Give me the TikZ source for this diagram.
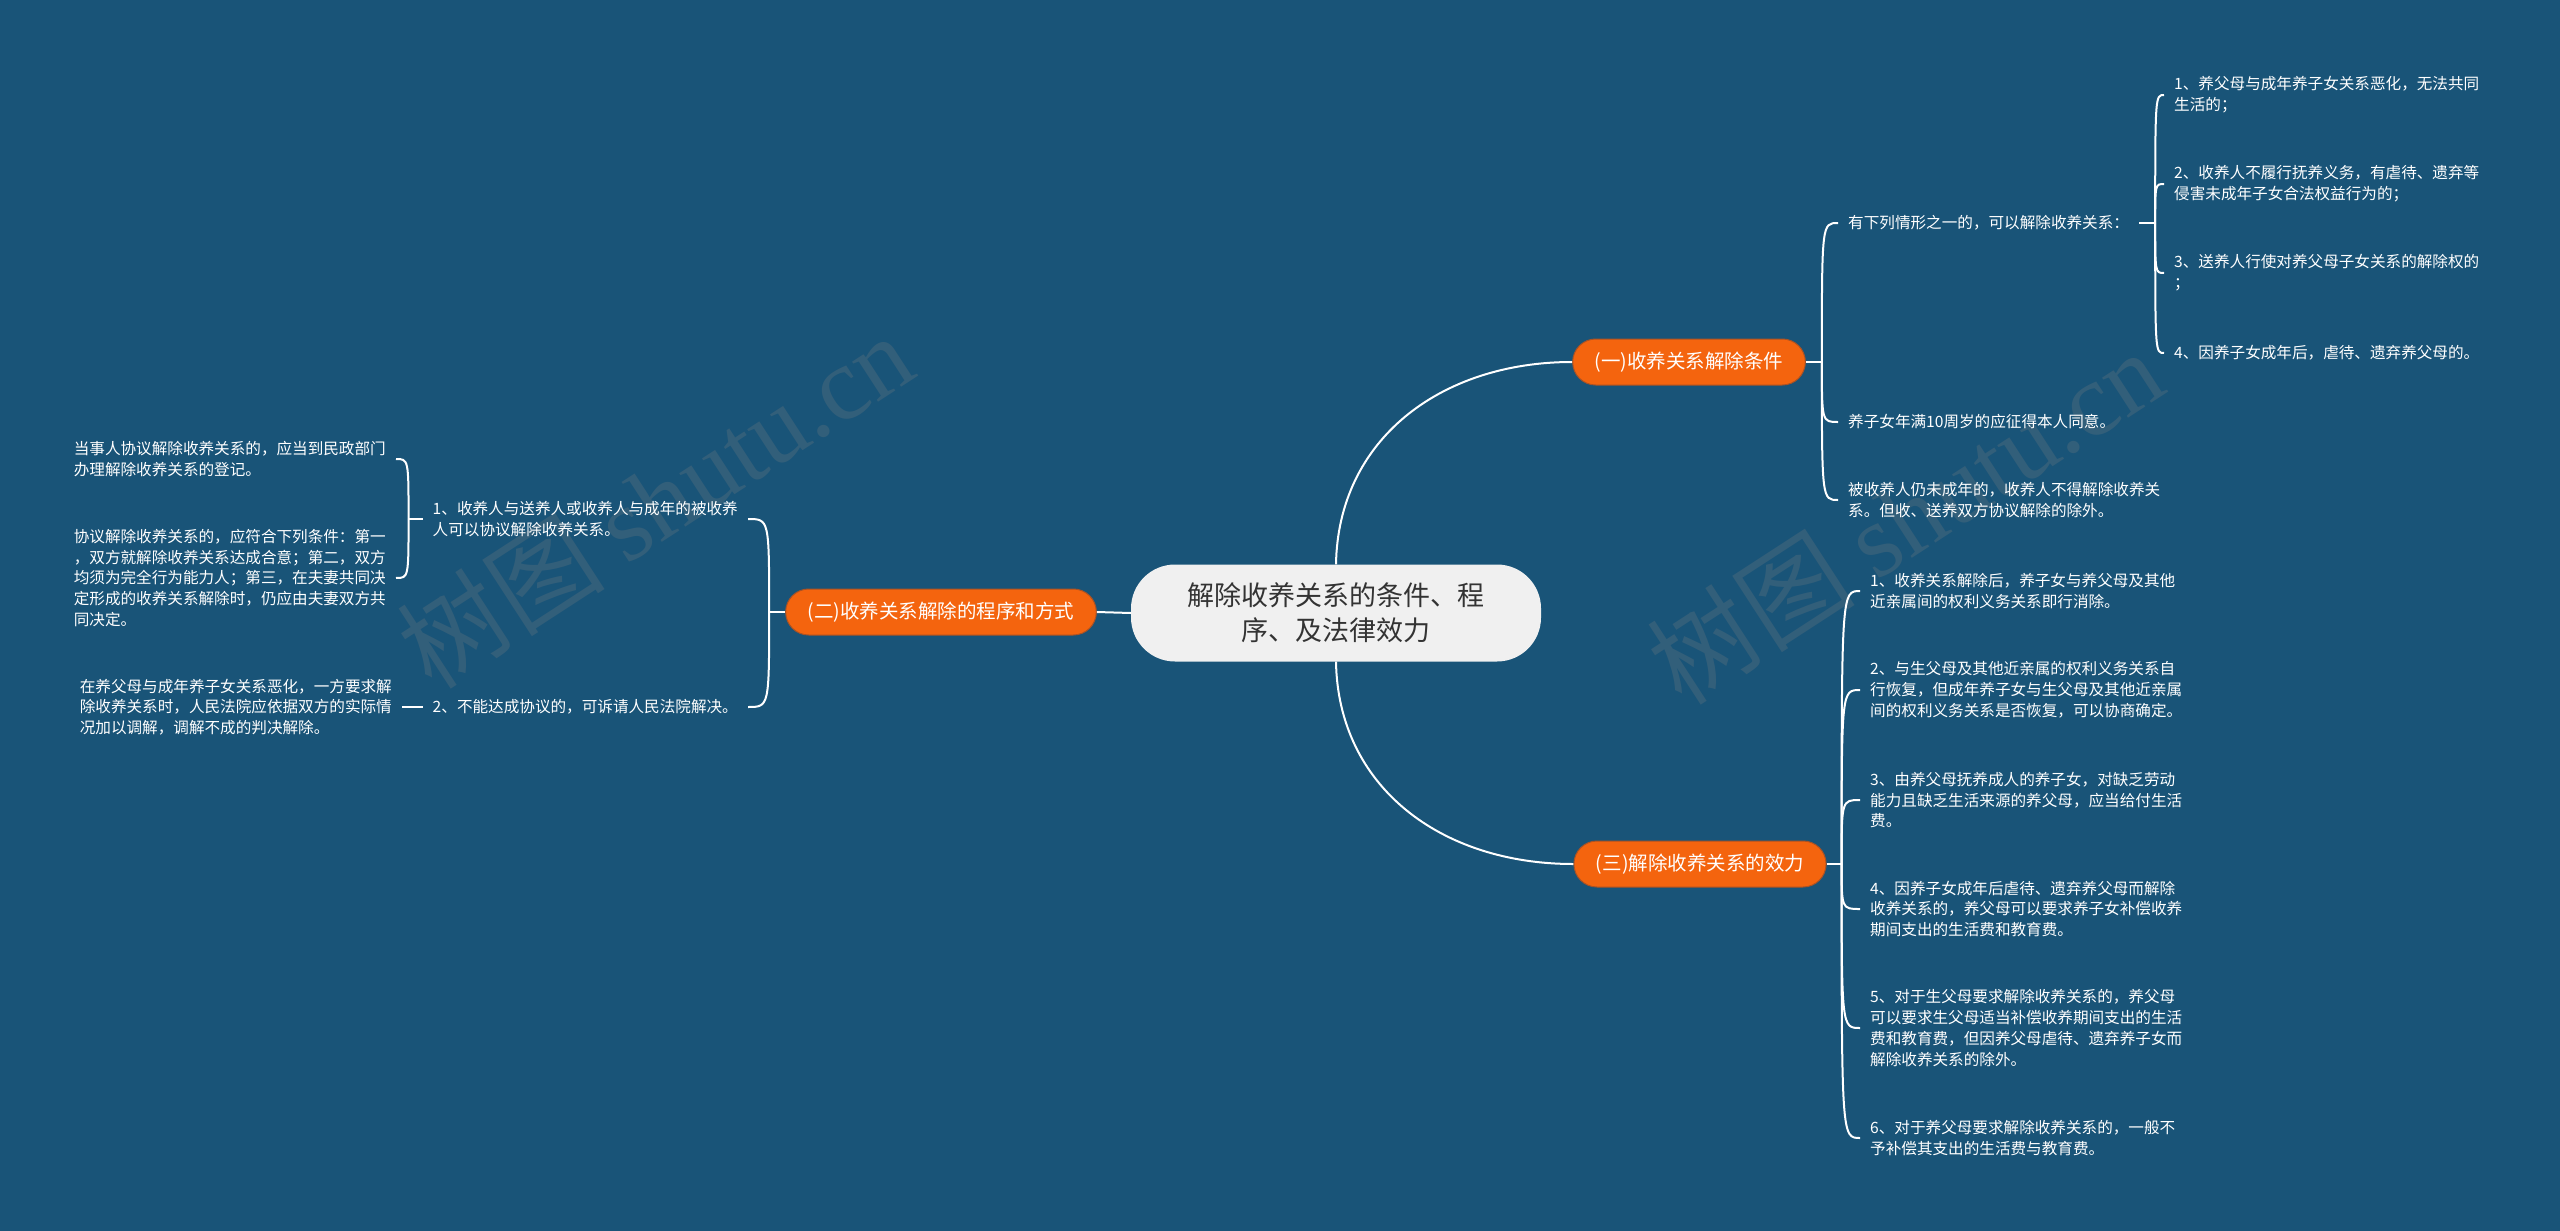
\documentclass[tikz,border=0pt]{standalone}
\usepackage{fontspec}
\setmainfont{Noto Sans CJK SC}
\newfontfamily\markfont{Liberation Serif}
\usepackage{tikz}
\usetikzlibrary{positioning}
\definecolor{bgblue}{RGB}{25,84,120}
\definecolor{nodeorange}{RGB}{244,100,14}
\definecolor{orangeedge}{RGB}{170,82,36}
\definecolor{rootgray}{RGB}{240,240,240}
\definecolor{roottext}{RGB}{51,51,51}
\newcommand{\rootsize}{\fontsize{27pt}{35pt}\selectfont}
\newcommand{\branchsize}{\fontsize{19.5pt}{24pt}\selectfont}
\newcommand{\leafsize}{\fontsize{15.6pt}{20.8pt}\selectfont}
\newcommand{\marksize}{\fontsize{104pt}{104pt}\selectfont}
\tikzset{
  topic/.style={rectangle, rounded corners=44pt, fill=rootgray, text=roottext,
                font=\rootsize, align=center,
                minimum width=410pt, minimum height=97pt},
  branch/.style={rectangle, rounded corners=23pt, fill=nodeorange,
                 draw=orangeedge, line width=1pt, text=white,
                 font=\branchsize, inner xsep=22pt, minimum height=46pt},
  leaf/.style={text=white, font=\leafsize, align=left,
               inner xsep=10pt, inner ysep=2pt},
  link/.style={white, line width=2pt},
  twig/.style={to path={.. controls (\tikztostart |- \tikztotarget) .. (\tikztotarget)}},
  wmark/.style={font=\marksize, text=gray, text opacity=0.25, rotate=33},
}
\begin{document}
\begin{tikzpicture}[x=1pt, y=-1pt]
  \fill[bgblue] (0,0) rectangle (2560,1231);
  \useasboundingbox (0,0) rectangle (2560,1231);
  %% watermark
  \node[wmark] (wm1) at (655,500)  {树图 {\markfont shutu.cn}};
  \node[wmark] (wm2) at (1905,516) {树图 {\markfont shutu.cn}};
  %% central topic and main branches
  \node[topic] (root) at (1336,613) {解除收养关系的条件、程\\序、及法律效力};
  \node[branch] (b1) at (1689,362) {(一)收养关系解除条件};
  \node[branch] (b2) at (941,612)  {(二)收养关系解除的程序和方式};
  \node[branch] (b3) at (1700,864) {(三)解除收养关系的效力};
  \draw[link] (root.north) .. controls (1338,440) and (1440,362) .. (b1.west);
  \draw[link] (root.south) .. controls (1338,786) and (1440,864) .. (b3.west);
  \draw[link] (root.west) -- (b2.east);
  %% (一) conditions
  \coordinate[right=16pt of b1] (j1);
  \node[leaf, anchor=west] (a1) at (1838,223) {有下列情形之一的，可以解除收养关系：};
  \node[leaf, anchor=west] (a2) at (1838,422) {养子女年满10周岁的应征得本人同意。};
  \node[leaf, anchor=west] (a3) at (1838,500) {被收养人仍未成年的，收养人不得解除收养关\\系。但收、送养双方协议解除的除外。};
  \draw[link] (b1.east) -- (j1);
  \foreach \c in {a1,a2,a3}
    \draw[link] (j1) to[twig] (\c.west);
  \coordinate[right=16pt of a1] (ja);
  \node[leaf, anchor=west] (c1) at (2164,95)  {1、养父母与成年养子女关系恶化，无法共同\\生活的；};
  \node[leaf, anchor=west] (c2) at (2164,184) {2、收养人不履行抚养义务，有虐待、遗弃等\\侵害未成年子女合法权益行为的；};
  \node[leaf, anchor=west] (c3) at (2164,273) {3、送养人行使对养父母子女关系的解除权的\\；};
  \node[leaf, anchor=west] (c4) at (2164,353) {4、因养子女成年后，虐待、遗弃养父母的。};
  \draw[link] (a1.east) -- (ja);
  \foreach \c in {c1,c2,c3,c4}
    \draw[link] (ja) to[twig] (\c.west);
  %% (三) effects
  \coordinate[right=15pt of b3] (j3);
  \node[leaf, anchor=west] (d1) at (1860,591)  {1、收养关系解除后，养子女与养父母及其他\\近亲属间的权利义务关系即行消除。};
  \node[leaf, anchor=west] (d2) at (1860,690)  {2、与生父母及其他近亲属的权利义务关系自\\行恢复，但成年养子女与生父母及其他近亲属\\间的权利义务关系是否恢复，可以协商确定。};
  \node[leaf, anchor=west] (d3) at (1860,800)  {3、由养父母抚养成人的养子女，对缺乏劳动\\能力且缺乏生活来源的养父母，应当给付生活\\费。};
  \node[leaf, anchor=west] (d4) at (1860,909)  {4、因养子女成年后虐待、遗弃养父母而解除\\收养关系的，养父母可以要求养子女补偿收养\\期间支出的生活费和教育费。};
  \node[leaf, anchor=west] (d5) at (1860,1028) {5、对于生父母要求解除收养关系的，养父母\\可以要求生父母适当补偿收养期间支出的生活\\费和教育费，但因养父母虐待、遗弃养子女而\\解除收养关系的除外。};
  \node[leaf, anchor=west] (d6) at (1860,1138) {6、对于养父母要求解除收养关系的，一般不\\予补偿其支出的生活费与教育费。};
  \draw[link] (b3.east) -- (j3);
  \foreach \c in {d1,d2,d3,d4,d5,d6}
    \draw[link] (j3) to[twig] (\c.west);
  %% (二) procedure
  \coordinate[left=16pt of b2] (j2);
  \node[leaf, anchor=east] (e1) at (748,519) {1、收养人与送养人或收养人与成年的被收养\\人可以协议解除收养关系。};
  \node[leaf, anchor=east] (e2) at (748,707) {2、不能达成协议的，可诉请人民法院解决。};
  \draw[link] (b2.west) -- (j2);
  \foreach \c in {e1,e2}
    \draw[link] (j2) to[twig] (\c.east);
  \coordinate[left=14pt of e1] (je);
  \node[leaf, anchor=east] (f1) at (396,459) {当事人协议解除收养关系的，应当到民政部门\\办理解除收养关系的登记。};
  \node[leaf, anchor=east] (f2) at (396,578) {协议解除收养关系的，应符合下列条件：第一\\，双方就解除收养关系达成合意；第二，双方\\均须为完全行为能力人；第三，在夫妻共同决\\定形成的收养关系解除时，仍应由夫妻双方共\\同决定。};
  \draw[link] (e1.west) -- (je);
  \foreach \c in {f1,f2}
    \draw[link] (je) to[twig] (\c.east);
  \node[leaf, anchor=east] (g1) at (402,707) {在养父母与成年养子女关系恶化，一方要求解\\除收养关系时，人民法院应依据双方的实际情\\况加以调解，调解不成的判决解除。};
  \draw[link] (e2.west) -- (g1.east);
\end{tikzpicture}
\end{document}
